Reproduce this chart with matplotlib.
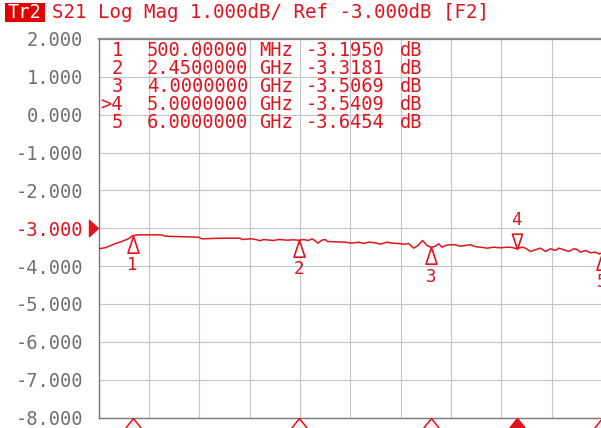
import matplotlib
matplotlib.use("Agg")
import matplotlib.pyplot as plt
from matplotlib.patches import Rectangle
from matplotlib.path import Path
import matplotlib.transforms as mtransforms
import numpy as np

# ---- data ----
freq_ghz = [0.100, 0.176, 0.215, 0.294, 0.372, 0.450, 0.500, 0.567, 0.841, 0.880,
            1.271, 1.311, 1.525, 1.760, 1.780, 1.897, 1.956, 1.994, 2.033, 2.151,
            2.209, 2.308, 2.385, 2.450, 2.502, 2.561, 2.601, 2.640, 2.671, 2.718,
            2.757, 2.784, 2.992, 3.070, 3.148, 3.206, 3.265, 3.343, 3.402, 3.481,
            3.539, 3.617, 3.675, 3.734, 3.793, 3.844, 3.898, 3.950, 4.000, 4.047,
            4.086, 4.126, 4.165, 4.223, 4.282, 4.341, 4.399, 4.458, 4.517, 4.575,
            4.654, 4.731, 4.810, 4.888, 4.947, 5.000, 5.064, 5.103, 5.162, 5.220,
            5.279, 5.338, 5.396, 5.455, 5.494, 5.552, 5.611, 5.670, 5.709, 5.748,
            5.807, 5.865, 5.924, 5.970, 6.000]
s21_db = [-3.542, -3.516, -3.482, -3.411, -3.350, -3.279, -3.195, -3.174, -3.174, -3.210,
          -3.237, -3.279, -3.263, -3.263, -3.297, -3.279, -3.305, -3.332, -3.297, -3.324,
          -3.297, -3.315, -3.305, -3.318, -3.297, -3.324, -3.279, -3.332, -3.394, -3.315,
          -3.297, -3.350, -3.368, -3.394, -3.368, -3.403, -3.368, -3.384, -3.421, -3.368,
          -3.394, -3.403, -3.421, -3.403, -3.526, -3.455, -3.324, -3.455, -3.507, -3.474,
          -3.411, -3.500, -3.455, -3.437, -3.437, -3.474, -3.455, -3.437, -3.485, -3.500,
          -3.526, -3.500, -3.516, -3.500, -3.508, -3.541, -3.500, -3.526, -3.613, -3.568,
          -3.526, -3.613, -3.542, -3.587, -3.526, -3.568, -3.613, -3.542, -3.561, -3.632,
          -3.587, -3.647, -3.632, -3.680, -3.645]

marker_ids = ["1", "2", "3", "4", "5"]
marker_freq = [0.5, 2.45, 4.0, 5.0, 6.0]
marker_val = [-3.1950, -3.3181, -3.5069, -3.5409, -3.6454]
marker_freq_text = ["500.00000", "2.4500000", "4.0000000", "5.0000000", "6.0000000"]
marker_unit = ["MHz", "GHz", "GHz", "GHz", "GHz"]
marker_val_text = ["-3.1950", "-3.3181", "-3.5069", "-3.5409", "-3.6454"]
active_marker = "4"

y_ticks = [2, 1, 0, -1, -2, -3, -4, -5, -6, -7, -8]
y_tick_labels = ["2.000", "1.000", "0.000", "-1.000", "-2.000", "-3.000",
                 "-4.000", "-5.000", "-6.000", "-7.000", "-8.000"]
ref_level = -3.0
f_start, f_stop = 0.1, 6.0

title_tag = "Tr2"
title_text = "S21 Log Mag 1.000dB/ Ref -3.000dB [F2]"

# ---- style ----
RED = "#e0141e"
GRAY_TXT = "#707070"
GRID = "#c4c4c4"
MONO = "DejaVu Sans Mono"
FS = 13.5
W, H = 601, 428

fig = plt.figure(figsize=(W / 100, H / 100), dpi=100)
fig.patch.set_facecolor("white")

def fx(px):
    return px / W

def fy(py):
    return 1 - py / H

left_px, right_px, top_px, bot_px = 98.5, 602.0, 39.0, 417.5
ax = fig.add_axes([fx(left_px), fy(bot_px), fx(right_px - left_px), (bot_px - top_px) / H])
ax.set_xlim(f_start, f_stop)
ax.set_ylim(-8, 2)

xt = np.linspace(f_start, f_stop, 11)
ax.set_xticks(xt)
ax.set_xticklabels([])
ax.set_yticks(y_ticks)
ax.set_yticklabels(y_tick_labels, family=MONO, fontsize=FS, color=GRAY_TXT)
for lab, v in zip(ax.get_yticklabels(), y_ticks):
    if v == ref_level:
        lab.set_color(RED)
ax.tick_params(axis="both", length=0, pad=11)
ax.grid(True, color=GRID, lw=0.8)
ax.set_axisbelow(True)
for s in ["left", "bottom"]:
    ax.spines[s].set_color("#7a7a7a")
    ax.spines[s].set_linewidth(1.0)
ax.spines["top"].set_color("#8a8a8a")
ax.spines["top"].set_linewidth(1.6)
ax.spines["right"].set_visible(False)

# trace
ax.plot(freq_ghz, s21_db, color=RED, lw=1.1, zorder=3)

# marker shapes
up_tri = Path([(0, 0), (-0.33, -1), (0.33, -1), (0, 0)], closed=True)
down_tri = Path([(0, 0), (-0.33, 1), (0.33, 1), (0, 0)], closed=True)
bot_tri = Path([(0, 0), (-0.8, -1), (0.8, -1), (0, 0)], closed=True)

for mid, f, v in zip(marker_ids, marker_freq, marker_val):
    if mid == active_marker:
        ax.plot([f], [v], marker=down_tri, markersize=22, mfc="white", mec=RED,
                mew=1.2, clip_on=False, zorder=4)
        ax.annotate(mid, (f, v), xytext=(0, 21), textcoords="offset points",
                    ha="center", va="center", color=RED, fontsize=12.5,
                    family=MONO, annotation_clip=False)
        ax.plot([f], [-8], marker=bot_tri, markersize=17, mfc=RED, mec=RED,
                mew=1.1, clip_on=False, zorder=5)
    else:
        ax.plot([f], [v], marker=up_tri, markersize=24, mfc="white", mec=RED,
                mew=1.2, clip_on=False, zorder=4)
        ax.annotate(mid, (f, v), xytext=(0, -21), textcoords="offset points",
                    ha="center", va="center", color=RED, fontsize=12.5,
                    family=MONO, annotation_clip=False)
        ax.plot([f], [-8], marker=bot_tri, markersize=17, mfc="#fff0f0", mec=RED,
                mew=1.1, clip_on=False, zorder=5)

# reference level arrow
ref_tri = Path([(0, 0), (-1, 0.9), (-1, -0.9), (0, 0)], closed=True)
trans_ref = mtransforms.blended_transform_factory(ax.transAxes, ax.transData)
ax.plot([-(left_px - 97.5) / (right_px - left_px)], [ref_level], marker=ref_tri,
        markersize=13, mfc=RED, mec=RED, transform=trans_ref, clip_on=False)

# marker table
row_y = [50, 68, 87, 105, 123]
for i, mid in enumerate(marker_ids):
    y = fy(row_y[i])
    label = (">" + mid) if mid == active_marker else mid
    fig.text(fx(123), y, label, ha="right", va="center", color=RED, fontsize=FS, family=MONO)
    fig.text(fx(147), y, marker_freq_text[i], ha="left", va="center", color=RED, fontsize=FS, family=MONO)
    fig.text(fx(259), y, marker_unit[i], ha="left", va="center", color=RED, fontsize=FS, family=MONO)
    fig.text(fx(306), y, marker_val_text[i], ha="left", va="center", color=RED, fontsize=FS, family=MONO)
    fig.text(fx(400), y, "dB", ha="left", va="center", color=RED, fontsize=FS, family=MONO)

# header
fig.add_artist(Rectangle((fx(5), fy(22)), 40 / W, 19 / H, transform=fig.transFigure,
                         facecolor="#e00000", edgecolor="none"))
fig.text(fx(25), fy(12.5), title_tag, ha="center", va="center", color="white",
         fontsize=FS, family=MONO)
fig.text(fx(52), fy(12.5), title_text, ha="left", va="center", color=RED,
         fontsize=FS + 0.3, family=MONO)

fig.savefig("out.png", dpi=100)
